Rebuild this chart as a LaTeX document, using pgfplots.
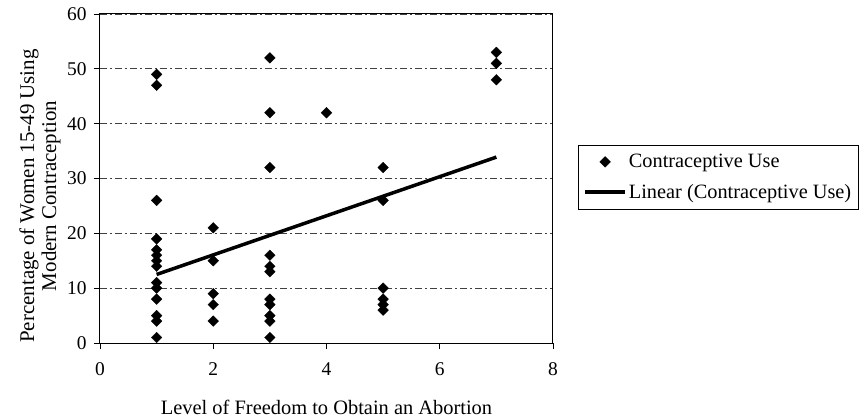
\documentclass[border=0pt]{standalone}
\usepackage{fontspec}
\setmainfont{Liberation Serif}
\usepackage{pgfplots}
\pgfplotsset{compat=1.18}
\pgfplotsset{
  markleg/.style={legend image code/.code={\draw[mark repeat=2,mark phase=2,##1] plot coordinates {(0bp,0bp)(20bp,0bp)(40bp,0bp)};}},
  lineleg/.style={legend image code/.code={\draw[##1] (0bp,0bp) -- (40bp,0bp);}},
}
\begin{document}
\begin{tikzpicture}
\useasboundingbox (-100bp,-75bp) rectangle (762bp,343bp);
\begin{axis}[
  at={(0,0)}, anchor=south west, scale only axis,
  width=453bp, height=329bp,
  xmin=0, xmax=8, ymin=0, ymax=60,
  xtick={0,2,4,6,8}, ytick={0,10,...,60},
  tick align=outside, tick pos=left, major tick length=6bp,
  /pgf/number format/assume math mode=true,
  ticklabel style={font=\fontsize{19.5}{22}\selectfont},
  xticklabel style={yshift=-10bp},
  yticklabel style={xshift=-4bp},
  axis line style={line width=1bp},
  every tick/.style={black, line width=0.8bp},
  ymajorgrids,
  major grid style={black!75, line width=0.7bp, dash pattern=on 7bp off 3bp on 2bp off 3bp},
  xlabel={Level of Freedom to Obtain an Abortion},
  ylabel={Percentage of Women 15-49 Using\\Modern Contraception},
  xlabel style={font=\fontsize{20.5}{22}\selectfont, at={(axis description cs:0.5,-0.2188)}, anchor=base},
  ylabel style={font=\fontsize{21}{22}\selectfont, at={(axis description cs:-0.1325,0.4468)}, anchor=center, align=center},
  legend style={at={(1.0552,0.6018)}, anchor=north west, draw=black, line width=0.8bp,
    font=\fontsize{20.4}{22}\selectfont, inner xsep=5bp, inner ysep=7bp, row sep=11bp},
  legend cell align=left,
]
\addplot[only marks, mark=square*, mark size=3.8pt,
  mark options={rotate=45, fill=black, draw=black, line width=0.3bp}, markleg]
coordinates {
(1,49)(1,47)(1,26)(1,19)(1,17)(1,16)(1,15)(1,14)(1,11)(1,10)(1,8)(1,5)(1,4)(1,1)
(2,21)(2,15)(2,9)(2,7)(2,4)
(3,52)(3,42)(3,32)(3,16)(3,14)(3,13)(3,8)(3,7)(3,5)(3,4)(3,1)
(4,42)
(5,32)(5,26)(5,10)(5,8)(5,7)(5,6)
(7,53)(7,51)(7,48)
};
\addlegendentry{Contraceptive Use}
\addplot[black, line width=3.5bp, no marks, lineleg]
coordinates {(1,12.5)(7,33.9)};
\addlegendentry{Linear (Contraceptive Use)}
\end{axis}
\end{tikzpicture}
\end{document}
